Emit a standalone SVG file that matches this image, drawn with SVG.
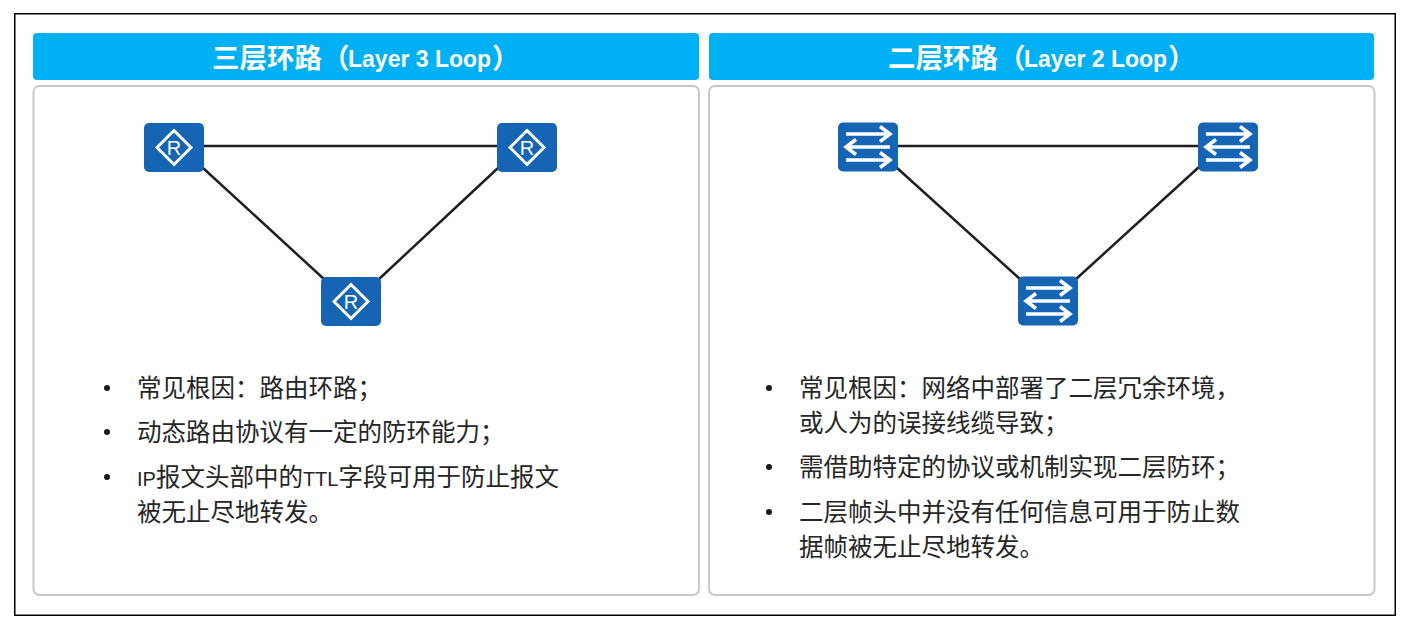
<svg xmlns="http://www.w3.org/2000/svg" width="1407" height="630" viewBox="0 0 1407 630">
<style>
.frame{fill:#fff;stroke:#000;stroke-width:1.5}
.head{fill:#00b0f5}
.panel{fill:#fff;stroke:#c8c8c8;stroke-width:2}
.title{font-family:"Noto Sans CJK SC",sans-serif;font-size:27.5px;font-weight:700;fill:#fff}
.latin{font-family:"Liberation Sans",sans-serif;font-size:23px;font-weight:700;fill:#fff}
.body{font-family:"Noto Sans CJK SC",sans-serif;font-size:24.5px;fill:#262626}
.sm{font-family:"Liberation Sans",sans-serif;font-size:20px}
.dot{fill:#1a1a1a}
.link{stroke:#1f1f1f;stroke-width:2.5;fill:none}
.dev{fill:#1565b4}
.dia{fill:none;stroke:#fff;stroke-width:3}
.arr{fill:none;stroke:#fff;stroke-width:3.500}
.r{font-family:"Liberation Sans",sans-serif;font-size:20px;fill:#fff;text-anchor:middle}
</style>
<defs>
<g id="router">
<rect class="dev" x="-30" y="-24.500" width="60" height="49" rx="5"/>
<path class="dia" d="M0,-17 L17,0 L0,17 L-17,0 Z"/>
<text class="r" x="0" y="7">R</text>
</g>
<g id="switch">
<rect class="dev" x="-30" y="-24.500" width="60" height="49" rx="5"/>
<path class="arr" d="M-22,-13 H21 M12,-20.500 L22,-13 L12,-5.500 M22,0 H-21 M-12,-7.500 L-22,0 L-12,7.500 M-22,13 H21 M12,5.500 L22,13 L12,20.500"/>
</g>
</defs>
<rect class="frame" x="14.750" y="13.750" width="1380.500" height="601.500"/>
<rect class="head" x="33" y="33" width="666" height="47" rx="4"/>
<rect class="head" x="709" y="33" width="665" height="47" rx="4"/>
<text class="title" x="212" y="68">三层环路（</text>
<text class="latin" x="348" y="67">Layer 3 Loop</text>
<text class="title" x="492" y="68">）</text>
<text class="title" x="888" y="68">二层环路（</text>
<text class="latin" x="1024" y="67">Layer 2 Loop</text>
<text class="title" x="1168" y="68">）</text>
<rect class="panel" x="33.500" y="86" width="665.500" height="509" rx="6"/>
<rect class="panel" x="709" y="86" width="665.500" height="509" rx="6"/>
<g id="connectors">
<path class="link" d="M204,146 H497 M203,168 L325,280 M498,168 L378,280"/>
<path class="link" d="M898,146 H1198 M896,167 L1021,280 M1199,167 L1075,280"/>
</g>
<g id="r1"><use href="#router" x="174" y="147.500"/></g>
<g id="r2"><use href="#router" x="527" y="147.500"/></g>
<g id="r3"><use href="#router" x="351" y="301.500"/></g>
<g id="s1"><use href="#switch" x="868" y="147"/></g>
<g id="s2"><use href="#switch" x="1228" y="147"/></g>
<g id="s3"><use href="#switch" x="1048" y="301"/></g>
<g id="left-text">
<circle class="dot" cx="107" cy="388" r="3"/>
<circle class="dot" cx="107" cy="432" r="3"/>
<circle class="dot" cx="107" cy="477" r="3"/>
<text class="body" x="137" y="397">常见根因：路由环路；</text>
<text class="body" x="137" y="441">动态路由协议有一定的防环能力；</text>
<text class="body" x="137" y="486"><tspan class="sm">IP</tspan>报文头部中的<tspan class="sm">TTL</tspan>字段可用于防止报文</text>
<text class="body" x="137" y="521">被无止尽地转发。</text>
</g>
<g id="right-text">
<circle class="dot" cx="769" cy="388" r="3"/>
<circle class="dot" cx="769" cy="467" r="3"/>
<circle class="dot" cx="769" cy="512" r="3"/>
<text class="body" x="799" y="397">常见根因：网络中部署了二层冗余环境，</text>
<text class="body" x="799" y="432">或人为的误接线缆导致；</text>
<text class="body" x="799" y="476">需借助特定的协议或机制实现二层防环；</text>
<text class="body" x="799" y="521">二层帧头中并没有任何信息可用于防止数</text>
<text class="body" x="799" y="556">据帧被无止尽地转发。</text>
</g>
</svg>
